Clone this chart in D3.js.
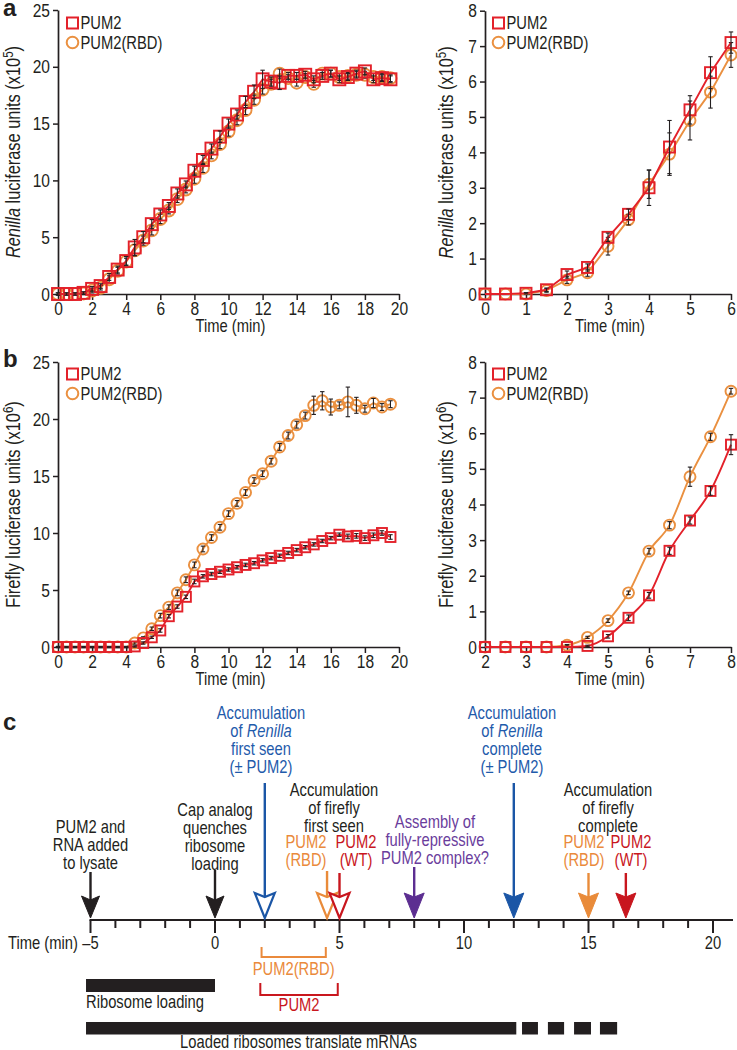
<!DOCTYPE html>
<html><head><meta charset="utf-8">
<script src="https://cdn.jsdelivr.net/npm/d3@7"></script>
<style>
body{margin:0;background:#fff;}
svg{display:block;font-family:"Liberation Sans",Arial,sans-serif;}
</style></head><body>
<svg id="chart" width="737" height="1050"></svg>
<script>
// ---------------- DATA ----------------
const timeFull = [0,0.5,1,1.5,2,2.5,3,3.5,4,4.5,5,5.5,6,6.5,7,7.5,8,8.5,9,9.5,10,10.5,11,11.5,12,12.5,13,13.5,14,14.5,15,15.5,16,16.5,17,17.5,18,18.5,19,19.5];
const renillaPUM2 = [0,0,0,0.1,0.45,0.7,1.5,2.15,2.9,4.1,5.0,6.15,7.0,7.75,8.85,9.65,10.85,11.8,12.8,13.85,15.0,15.8,16.9,17.8,18.9,18.7,18.6,19.2,19.2,19.3,18.9,19.2,19.4,18.9,19.1,19.4,19.6,18.9,19.0,18.9];
const renillaPUM2Err = [0.1,0.1,0.1,0.1,0.2,0.2,0.3,0.3,0.4,0.7,0.5,0.4,0.4,0.3,0.4,0.3,0.4,0.4,0.4,0.5,0.4,0.4,0.5,0.6,0.8,0.4,0.6,0.3,0.3,0.3,0.3,0.3,0.3,0.3,0.3,0.3,0.3,0.3,0.3,0.3];
const renillaRBD = [0,0,0,0.05,0.3,0.55,1.3,2.05,2.85,3.85,4.7,5.6,6.6,7.35,8.35,9.2,10.15,11.1,12.2,13.2,14.3,15.3,16.2,17.1,18.0,18.5,19.4,19.0,18.6,19.1,18.5,19.4,19.4,19.1,19.2,19.3,19.3,19.1,19.1,19.0];
const renillaRBDErr = [0.1,0.1,0.1,0.1,0.2,0.2,0.3,0.3,0.3,0.5,0.4,0.4,0.4,0.3,0.3,0.3,0.4,0.4,0.3,0.4,0.4,0.4,0.4,0.4,0.4,0.4,0.4,0.3,0.3,0.3,0.3,0.3,0.3,0.3,0.3,0.3,0.3,0.3,0.3,0.3];

const timeRenZoom = [0,0.5,1,1.5,2,2.5,3,3.5,4,4.5,5,5.5,6];
const renZoomPUM2 = [0,0,0.02,0.12,0.55,0.75,1.6,2.25,3.0,4.15,5.2,6.25,7.1];
const renZoomPUM2Err = [0,0,0.02,0.05,0.1,0.1,0.12,0.15,0.5,0.75,0.4,0.45,0.3];
const renZoomRBD = [0,0,0,0.1,0.4,0.6,1.35,2.1,3.1,3.95,4.9,5.7,6.75];
const renZoomRBDErr = [0,0,0,0.05,0.1,0.1,0.25,0.15,0.4,0.6,0.55,0.45,0.35];

const fireflyPUM2 = [0,0,0,0,0,0,0,0,0,0.05,0.35,0.85,1.45,2.7,3.55,4.4,5.75,6.2,6.4,6.6,6.8,7.0,7.2,7.35,7.6,7.8,8.0,8.25,8.5,8.75,9.0,9.3,9.55,9.85,9.7,9.75,9.55,9.8,10.0,9.65];
const fireflyPUM2Err = [0.05,0.05,0.05,0.05,0.05,0.05,0.05,0.05,0.05,0.05,0.1,0.1,0.15,0.15,0.15,0.15,0.2,0.15,0.15,0.15,0.15,0.15,0.15,0.15,0.15,0.15,0.15,0.15,0.15,0.15,0.15,0.15,0.15,0.15,0.2,0.2,0.2,0.2,0.2,0.2];
const fireflyRBD = [0,0,0,0,0,0,0,0,0,0.35,0.8,1.6,2.75,3.5,4.75,5.9,7.2,8.6,9.6,10.5,11.7,12.6,13.55,14.6,15.2,16.3,17.55,18.55,19.5,20.3,21.2,21.6,21.05,21.2,21.5,21.2,20.9,21.4,21.05,21.3];
const fireflyRBDErr = [0.05,0.05,0.05,0.05,0.05,0.05,0.05,0.05,0.05,0.1,0.1,0.15,0.2,0.2,0.25,0.25,0.25,0.25,0.25,0.25,0.25,0.25,0.25,0.25,0.25,0.25,0.3,0.3,0.3,0.3,0.8,0.8,0.7,0.3,1.3,0.7,0.3,0.4,0.3,0.3];

const timeFfZoom = [2,2.5,3,3.5,4,4.5,5,5.5,6,6.5,7,7.5,8];
const ffZoomPUM2 = [0,0,0,0,0,0.03,0.3,0.82,1.45,2.7,3.55,4.38,5.68];
const ffZoomPUM2Err = [0,0,0,0,0,0.02,0.05,0.08,0.08,0.1,0.1,0.12,0.28];
const ffZoomRBD = [0,0,0,0,0.05,0.27,0.74,1.52,2.69,3.42,4.78,5.9,7.18];
const ffZoomRBDErr = [0,0,0,0,0.02,0.03,0.05,0.05,0.08,0.1,0.27,0.1,0.08];

const seriesNames = ["PUM2","PUM2(RBD)"];
const ticksFull = [0,2,4,6,8,10,12,14,16,18,20];
const ticksY25 = [0,5,10,15,20,25];
const ticksY8 = [0,1,2,3,4,5,6,7,8];
const ticksRenZoomX = [0,1,2,3,4,5,6];
const ticksFfZoomX = [2,3,4,5,6,7,8];

// panel c data (time in min)
const cAxisTicksMajor = [-5,0,5,10,15,20];
const cAxisTicksMinor = [-4,-3,-2,-1,1,2,3,4,6,7,8,9,11,12,13,14,16,17,18,19];
const cArrows = [
  {t:-5, key:"black", open:false},
  {t:0, key:"black", open:false},
  {t:2, key:"blue", open:true},
  {t:4.5, key:"orange", open:true},
  {t:5, key:"red", open:true},
  {t:8, key:"purple", open:false},
  {t:12, key:"blue", open:false},
  {t:15, key:"orange", open:false},
  {t:16.5, key:"red", open:false}
];
const cLabels = [
  {key:"black", lines:["PUM2 and","RNA added","to lysate"]},
  {key:"black", lines:["Cap analog","quenches","ribosome","loading"]},
  {key:"blue", lines:["Accumulation","of *Renilla*","first seen","(± PUM2)"]},
  {key:"black", lines:["Accumulation","of firefly","first seen"]},
  {key:"orange", lines:["PUM2","(RBD)"]},
  {key:"red", lines:["PUM2","(WT)"]},
  {key:"purple", lines:["Assembly of","fully-repressive","PUM2 complex?"]},
  {key:"blue", lines:["Accumulation","of *Renilla*","complete","(± PUM2)"]},
  {key:"black", lines:["Accumulation","of firefly","complete"]},
  {key:"orange", lines:["PUM2","(RBD)"]},
  {key:"red", lines:["PUM2","(WT)"]}
];
const cBrackets = [
  {t0:1.87, t1:4.45, key:"orange", label:"PUM2(RBD)"},
  {t0:1.82, t1:4.93, key:"red", label:"PUM2"}
];
const cBars = [
  {t0:-5.18, t1:0, row:0, label:"Ribosome loading"},
  {t0:-5.18, t1:12.1, row:1, label:"Loaded ribosomes translate mRNAs"},
  {t0:12.33, t1:12.97, row:1},
  {t0:13.37, t1:14.02, row:1},
  {t0:14.42, t1:15.1, row:1},
  {t0:15.46, t1:16.15, row:1}
];

// ---------------- STYLE / LAYOUT ----------------
const RED = "#e3212a", ORANGE = "#ea9040", AXIS = "#231f20";
const NARROW = 0.82;
const cColors = {black:"#231f20", blue:"#1b56a6", orange:"#e98b3a", red:"#c8161e", purple:"#5c2e91"};
const cTextColors = {black:"#231f20", blue:"#1f5bab", orange:"#ea8a3c", red:"#c9171e", purple:"#6a3d9c"};

const svg = d3.select("#chart");

function drawPanel(o){
  const g = svg.append("g");
  const x = d3.scaleLinear().domain(o.xDomain).range(o.xRange);
  const y = d3.scaleLinear().domain(o.yDomain).range(o.yRange);
  const xa = d3.axisBottom(x).tickValues(o.xTicks).tickSize(6).tickSizeOuter(0).tickPadding(2).tickFormat(d3.format("d"));
  const ya = d3.axisLeft(y).tickValues(o.yTicks).tickSize(5).tickSizeOuter(0).tickPadding(3).tickFormat(d3.format("d"));
  const gx = g.append("g").attr("transform",`translate(0,${o.yRange[0]})`).call(xa);
  const gy = g.append("g").attr("transform",`translate(${o.xRange[0]},0)`).call(ya);
  [gx,gy].forEach(a=>{
    a.select(".domain").attr("stroke",AXIS).attr("stroke-width",1.7);
    a.selectAll(".tick line").attr("stroke",AXIS).attr("stroke-width",1.5);
    a.selectAll(".tick text").attr("fill","#231f20").style("font-size","19px").style("font-family",'"Liberation Sans",Arial,sans-serif');
  });
  // x title
  g.append("text").attr("x",(o.xRange[0]+o.xRange[1])/2+2).attr("y",o.yRange[0]+38)
    .attr("text-anchor","middle").attr("fill","#231f20").style("font-size","18px").text("Time (min)");
  // y title
  const yt = g.append("text").attr("transform",`translate(${o.yTitleX},${(o.yRange[0]+o.yRange[1])/2}) rotate(-90)`)
    .attr("text-anchor","middle").attr("fill","#231f20").style("font-size","20px");
  if(o.yItalic) yt.append("tspan").style("font-style","italic").text(o.yItalic);
  yt.append("tspan").text(o.yText);
  yt.append("tspan").attr("dy",-7).style("font-size","14px").text(o.yExp);
  yt.append("tspan").attr("dy",7).text(")");

  const styles = [
    {color:RED, shape:"square"},
    {color:ORANGE, shape:"circle"}
  ];
  const order = [1,0];
  order.forEach(si=>{
    const s = o.series[si], st = styles[si];
    const pts = o.times.map((t,i)=>({t, v:s.values[i], e:s.err[i]}));
    const line = d3.line().x(d=>x(d.t)).y(d=>y(d.v)).curve(o.curve || d3.curveLinear);
    g.append("path").datum(pts).attr("d",line).attr("fill","none").attr("stroke",st.color).attr("stroke-width",1.9);
    if(st.shape==="square"){
      g.selectAll(null).data(pts).enter().append("rect")
        .attr("x",d=>x(d.t)-o.sq/2).attr("y",d=>y(d.v)-o.sq/2).attr("width",o.sq).attr("height",o.sq)
        .attr("fill","none").attr("stroke",st.color).attr("stroke-width",1.9);
    } else {
      g.selectAll(null).data(pts).enter().append("circle")
        .attr("cx",d=>x(d.t)).attr("cy",d=>y(d.v)).attr("r",o.r)
        .attr("fill","none").attr("stroke",st.color).attr("stroke-width",1.9);
    }
    const eb = g.selectAll(null).data(pts.filter(d=>d.e>0)).enter().append("g").attr("stroke","#231f20").attr("stroke-width",1.1);
    eb.append("line").attr("x1",d=>x(d.t)).attr("x2",d=>x(d.t)).attr("y1",d=>y(d.v-d.e)).attr("y2",d=>y(d.v+d.e));
    eb.append("line").attr("x1",d=>x(d.t)-2.2).attr("x2",d=>x(d.t)+2.2).attr("y1",d=>y(d.v+d.e)).attr("y2",d=>y(d.v+d.e));
    eb.append("line").attr("x1",d=>x(d.t)-2.2).attr("x2",d=>x(d.t)+2.2).attr("y1",d=>y(d.v-d.e)).attr("y2",d=>y(d.v-d.e));
  });
  // legend
  const lx = o.legend[0], ly = o.legend[1];
  g.append("rect").attr("x",lx-5.5).attr("y",ly-5.5).attr("width",11).attr("height",11).attr("fill","none").attr("stroke",RED).attr("stroke-width",2);
  g.append("circle").attr("cx",lx).attr("cy",ly+19.5).attr("r",5.8).attr("fill","none").attr("stroke",ORANGE).attr("stroke-width",2);
  g.append("text").attr("x",lx+8).attr("y",ly+6.5).attr("fill","#231f20").style("font-size","18px").text(seriesNames[0]);
  g.append("text").attr("x",lx+8).attr("y",ly+26).attr("fill","#231f20").style("font-size","18px").text(seriesNames[1]);
}

drawPanel({xDomain:[0,20], xRange:[58,399], yDomain:[0,25], yRange:[294,10], xTicks:ticksFull, yTicks:ticksY25,
  times:timeFull, series:[{values:renillaPUM2, err:renillaPUM2Err},{values:renillaRBD, err:renillaRBDErr}],
  sq:12, r:6, legend:[72.5,23], yTitleX:20, yItalic:"Renilla", yText:" luciferase units (x10", yExp:"5"});
drawPanel({xDomain:[0,6], xRange:[485,731], yDomain:[0,8], yRange:[294,10.7], xTicks:ticksRenZoomX, yTicks:ticksY8,
  times:timeRenZoom, series:[{values:renZoomPUM2, err:renZoomPUM2Err},{values:renZoomRBD, err:renZoomRBDErr}],
  sq:11, r:5.5, legend:[498.5,23], yTitleX:453, yItalic:"Renilla", yText:" luciferase units (x10", yExp:"5"});
drawPanel({xDomain:[0,20], xRange:[58,399], yDomain:[0,25], yRange:[647,362], xTicks:ticksFull, yTicks:ticksY25,
  times:timeFull, series:[{values:fireflyPUM2, err:fireflyPUM2Err},{values:fireflyRBD, err:fireflyRBDErr}],
  sq:10, r:5.5, legend:[72.5,374], yTitleX:20, yItalic:null, yText:"Firefly luciferase units (x10", yExp:"6"});
drawPanel({xDomain:[2,8], xRange:[485,731], yDomain:[0,8], yRange:[647,362], xTicks:ticksFfZoomX, yTicks:ticksY8,
  times:timeFfZoom, series:[{values:ffZoomPUM2, err:ffZoomPUM2Err},{values:ffZoomRBD, err:ffZoomRBDErr}],
  sq:10, r:5.5, legend:[498.5,374], yTitleX:453, yItalic:null, yText:"Firefly luciferase units (x10", yExp:"6", curve:d3.curveMonotoneX});

// ---------------- PANEL C ----------------
(function(){
  const g = svg.append("g");
  const xc = d3.scaleLinear().domain([-5,20]).range([90.5,713]);
  const axisY = 920;
  g.append("line").attr("x1",xc(-5)-1).attr("x2",733).attr("y1",axisY).attr("y2",axisY).attr("stroke",AXIS).attr("stroke-width",2);
  g.selectAll(null).data(cAxisTicksMinor).enter().append("line")
    .attr("x1",d=>xc(d)).attr("x2",d=>xc(d)).attr("y1",axisY).attr("y2",axisY+8).attr("stroke",AXIS).attr("stroke-width",2);
  g.selectAll(null).data(cAxisTicksMajor).enter().append("line")
    .attr("x1",d=>xc(d)).attr("x2",d=>xc(d)).attr("y1",axisY).attr("y2",axisY+13).attr("stroke",AXIS).attr("stroke-width",2);
  g.selectAll(null).data(cAxisTicksMajor).enter().append("text")
    .attr("x",d=>xc(d)).attr("y",axisY+29).attr("text-anchor","middle").attr("fill","#231f20").style("font-size","18px")
    .text(d=>d<0?"\u2013"+Math.abs(d):d);
  g.append("text").attr("x",8).attr("y",axisY+29).attr("fill","#231f20").style("font-size","18px").text("Time (min)");

  // arrows
  const arrowTop = [872,870,783,871,873,867,783,873,873];
  const tipY = 918;
  cArrows.forEach((a,i)=>{
    const x = xc(a.t), col = cColors[a.key];
    const w = a.key==="black"?18:20, h = a.key==="black"?22:25, notch = 4;
    g.append("line").attr("x1",x).attr("x2",x).attr("y1",arrowTop[i]).attr("y2",tipY-h+notch+1)
      .attr("stroke",col).attr("stroke-width",2.4);
    g.append("path").attr("d",`M${x-w/2},${tipY-h} L${x},${tipY-h+notch} L${x+w/2},${tipY-h} L${x},${tipY} Z`)
      .attr("fill",a.open?"#fff":col).attr("stroke",col).attr("stroke-width",a.open?2.2:1).attr("stroke-linejoin","miter");
  });

  // labels
  const labelX = [90.5,215,261,334,306,356,435,512,608,584,631];
  const labelTop = [833,816.5,719.5,796.5,848,848,828,719.5,796.5,848,848];
  cLabels.forEach((L,i)=>{
    L.lines.forEach((ln,j)=>{
      const t = g.append("text").attr("x",labelX[i]).attr("y",labelTop[i]+j*18).attr("text-anchor","middle")
        .attr("fill",cTextColors[L.key]).style("font-size","18px");
      ln.split(/(\*[^*]+\*)/).filter(s=>s.length).forEach(seg=>{
        if(seg.startsWith("*")) t.append("tspan").style("font-style","italic").text(seg.slice(1,-1));
        else t.append("tspan").text(seg);
      });
    });
  });

  // brackets
  const brTop = [947,983], brBot = [957,995], brLabelY = [975,1011.5];
  cBrackets.forEach((b,i)=>{
    const col = cTextColors[b.key];
    g.append("path").attr("d",`M${xc(b.t0)},${brTop[i]} V${brBot[i]} H${xc(b.t1)} V${brTop[i]}`)
      .attr("fill","none").attr("stroke",col).attr("stroke-width",2);
    g.append("text").attr("x",(xc(b.t0)+xc(b.t1))/2).attr("y",brLabelY[i]).attr("text-anchor","middle")
      .attr("fill",col).style("font-size","18px").text(b.label);
  });

  // bars
  const rowY = [979,1022], rowH = [13,12.5];
  cBars.forEach(b=>{
    g.append("rect").attr("x",xc(b.t0)).attr("y",rowY[b.row]).attr("width",xc(b.t1)-xc(b.t0)).attr("height",rowH[b.row]).attr("fill","#231f20");
  });
  g.append("text").attr("x",xc(cBars[0].t0)).attr("y",1008).attr("fill","#231f20").style("font-size","18px").text(cBars[0].label);
  g.append("text").attr("x",298.5).attr("y",1048).attr("text-anchor","middle").attr("fill","#231f20").style("font-size","18px").text(cBars[1].label);
})();

// condense all regular text horizontally (narrow face look)
svg.selectAll("text").each(function(){
  const el = d3.select(this);
  const ox = +(el.attr("x") || 0);
  const tr = el.attr("transform") || "";
  el.attr("transform", `${tr} translate(${ox},0) scale(${NARROW},1) translate(${-ox},0)`);
});

// panel letters (bold, not condensed)
[["a",3,16],["b",3,367],["c",3,730]].forEach(([t,x,y])=>{
  svg.append("text").attr("x",x).attr("y",y).attr("fill","#231f20")
    .style("font-weight","bold").style("font-size","24px").text(t);
});
</script>
</body></html>
